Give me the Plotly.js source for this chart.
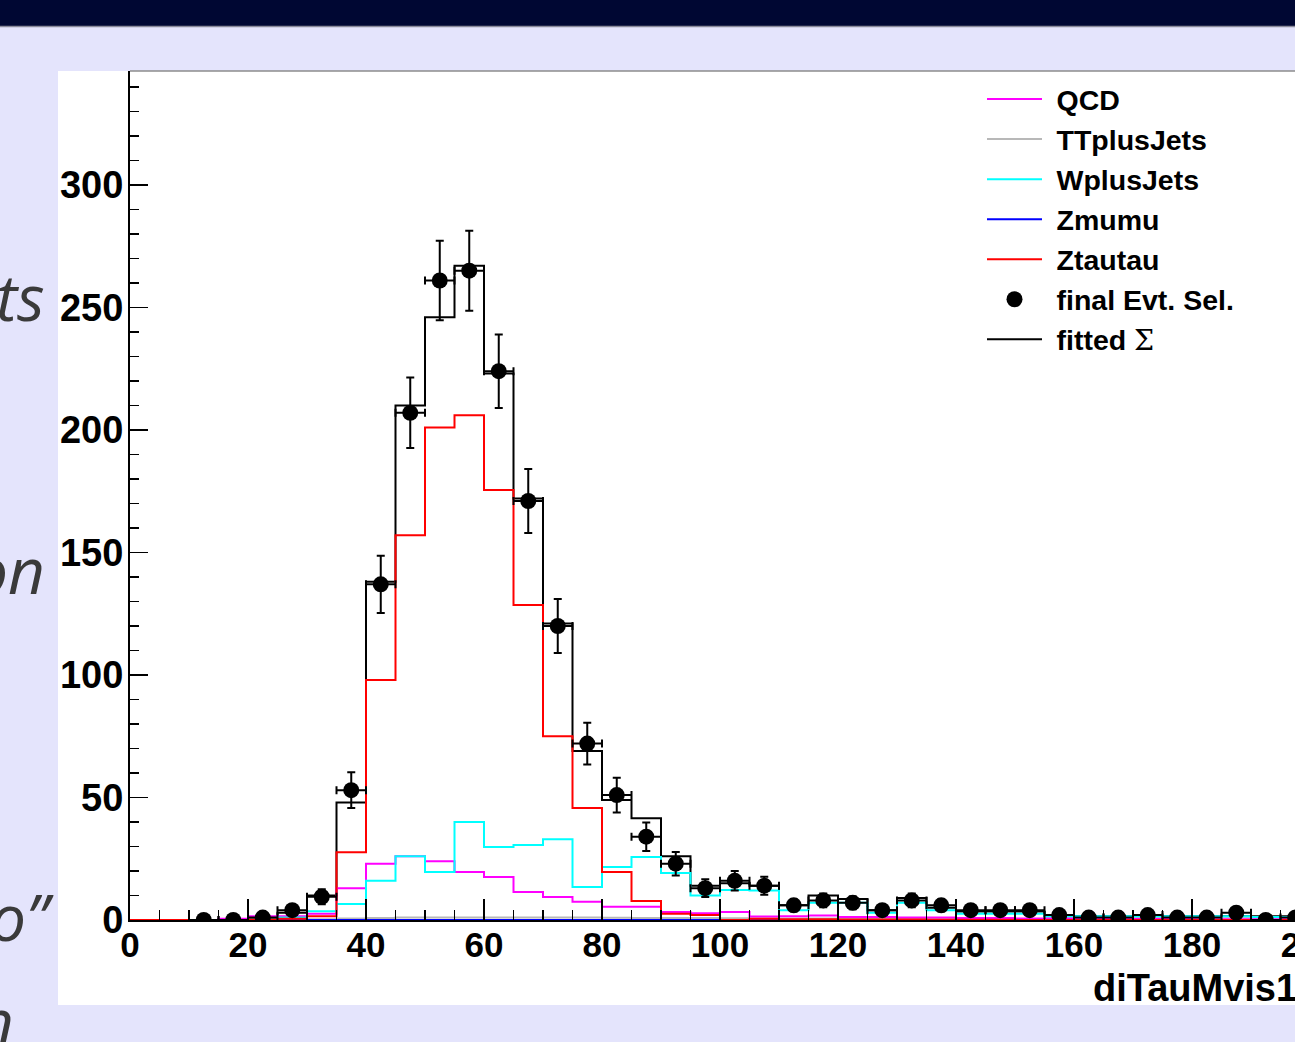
<!DOCTYPE html>
<html>
<head>
<meta charset="utf-8">
<script src="https://cdn.plot.ly/plotly-3.0.1.min.js"></script>
<style>
  html, body { margin: 0; padding: 0; overflow: hidden; background: #e4e4fc; }
  #chart { width: 1330px; height: 1042px; }
</style>
</head>
<body>
<div id="chart"></div>
<script>
// ---- data ----
const binCenters = [2.5, 7.5, 12.5, 17.5, 22.5, 27.5, 32.5, 37.5, 42.5, 47.5,
                    52.5, 57.5, 62.5, 67.5, 72.5, 77.5, 82.5, 87.5, 92.5, 97.5,
                    102.5, 107.5, 112.5, 117.5, 122.5, 127.5, 132.5, 137.5, 142.5, 147.5,
                    152.5, 157.5, 162.5, 167.5, 172.5, 177.5, 182.5, 187.5, 192.5, 197.5];
const binWidth = 5;

const qcd = [0, 0, 0, 0.5, 1.5, 1.5, 2.5, 13, 23, 26,
             24, 19.6, 17.6, 11.4, 9.4, 7.4, 5.4, 5.4, 3.3, 2.8,
             3.3, 1.4, 1.5, 1.8, 1.2, 1.2, 1, 1, 0.8, 0.8,
             0.6, 0.6, 0.5, 0.5, 0.4, 0.4, 0.3, 0.3, 0.3, 0.3];
const ttPlusJets = [0, 0, 0, 0, 0, 0.2, 0.3, 0.6, 0.8, 1,
                    1, 1, 1, 1, 1, 1, 0.9, 0.8, 0.8, 0.8,
                    0.7, 0.6, 0.6, 0.6, 0.5, 0.5, 0.4, 0.4, 0.3, 0.3,
                    0.3, 0.3, 0.2, 0.2, 0.2, 0.2, 0.2, 0.2, 0.2, 0.2];
const wPlusJets = [0, 0, 0, 0, 0.3, 1, 3.6, 6.5, 16, 26,
                   19.6, 40, 29.8, 30.6, 33, 13.5, 21.6, 25.7, 19.2, 10,
                   12.2, 12, 4, 7, 7, 3, 7, 4, 2.5, 2.5,
                   2.5, 1.5, 1.5, 1.5, 1.5, 1.5, 1.5, 1.5, 1.2, 1.2];
const zMuMu = [0, 0, 0, 0, 0, 0.05, 0.05, 0.05, 0.05, 0.05,
               0.05, 0.05, 0.05, 0.05, 0.05, 0.05, 0.05, 0.05, 0.05, 0.05,
               0, 0, 0, 0, 0, 0, 0, 0, 0, 0,
               0, 0, 0, 0, 0, 0, 0, 0, 0, 0];
const zTauTau = [0, 0, 0, 0, 0.2, 0.5, 1.5, 27.7, 98, 157,
                 201, 206, 175.5, 128.6, 75, 45.7, 19.6, 7.8, 2.5, 2,
                 0, 0.5, 0.3, 0.3, 0.2, 0.2, 0.2, 0.1, 0.1, 0.1,
                 0, 0, 0, 0, 0, 0, 0, 0, 0, 0];
const fittedSum = [0, 0, 0, 0.3, 1, 3, 10, 48, 138, 210,
                   246, 267, 223, 172, 121, 69, 49, 41.5, 26, 14,
                   15, 14, 6, 10, 8.6, 4, 9, 5, 3.5, 3.5,
                   3.5, 1.5, 1.5, 1.5, 1.5, 1.5, 1.5, 1.5, 1.5, 1.5];
const finalEvtSel = [null, null, 0, 0, 1, 4, 9.5, 53, 137, 207,
                     261, 265, 224, 171, 120, 72, 51, 34, 23, 13,
                     16, 14, 6, 8, 7, 4, 8, 6, 4, 4,
                     4, 2, 1, 1, 2, 1, 1, 3, 0, 1];
const finalEvtSelErr = [null, null, 0, 0, 1, 2, 3.1, 7.3, 11.7, 14.4,
                        16.2, 16.3, 15, 13.1, 11, 8.5, 7.1, 5.8, 4.8, 3.6,
                        4, 3.7, 2.4, 2.8, 2.6, 2, 2.8, 2.4, 2, 2,
                        2, 1.4, 1, 1, 1.4, 1, 1, 1.7, 0, 1];

const xTickVals = [0, 20, 40, 60, 80, 100, 120, 140, 160, 180, 200];
const yTickVals = [0, 50, 100, 150, 200, 250, 300];

// ---- helpers ----
const SP = '\u2004';
function stepTrace(name, vals, color, rank) {
  const xs = binCenters.map(c => c - binWidth / 2);
  xs.push(binCenters[binCenters.length - 1] + binWidth / 2);
  const ys = vals.slice();
  ys.push(vals[vals.length - 1]);
  return {
    type: 'scatter', mode: 'lines', name: SP + name, x: xs, y: ys,
    line: {shape: 'hv', color: color, width: 2},
    legendrank: rank, hoverinfo: 'skip'
  };
}

// pixel -> paper helpers (plot area: x 130..1310, y 71..920)
const PL = 130, PW = 1180, PT = 71, PH = 849;
const px = p => (p - PL) / PW;
const py = p => (PT + PH - p) / PH;

const traces = [
  stepTrace('fitted <span style="font-family:\'DejaVu Serif\';font-weight:normal">Σ</span>', fittedSum, '#000000', 7),
  stepTrace('TTplusJets', ttPlusJets, '#b8b8b8', 2),
  stepTrace('Zmumu', zMuMu, '#0000ff', 4),
  stepTrace('QCD', qcd, '#ff00ff', 1),
  stepTrace('WplusJets', wPlusJets, '#00ffff', 3),
  stepTrace('Ztautau', zTauTau, '#ff0000', 5),
  {
    type: 'scatter', mode: 'markers', name: SP + 'final Evt. Sel.',
    x: binCenters, y: finalEvtSel,
    marker: {color: '#000000', size: 16},
    error_y: {type: 'data', array: finalEvtSelErr, visible: true, color: '#000000', thickness: 2, width: 4},
    error_x: {type: 'constant', value: binWidth / 2, visible: true, color: '#000000', thickness: 2, width: 4},
    legendrank: 6, hoverinfo: 'skip'
  }
];

const tickFontX = {family: 'Liberation Sans, Arial, sans-serif', size: 35, color: '#000', weight: 'bold'};
const tickFontY = {family: 'Liberation Sans, Arial, sans-serif', size: 38, color: '#000', weight: 'bold'};
const slideFont = {family: 'Open Sans, sans-serif', size: 64, color: '#3a3a3a', style: 'italic'};

const layout = {
  width: 1330, height: 1042,
  margin: {l: PL, r: 1330 - PL - PW, t: PT, b: 1042 - PT - PH, pad: 0},
  paper_bgcolor: '#e4e4fc',
  plot_bgcolor: '#ffffff',
  showlegend: true,
  legend: {
    x: px(982), y: py(74), xanchor: 'left', yanchor: 'top',
    bgcolor: 'rgba(0,0,0,0)', borderwidth: 0,
    font: {family: 'Liberation Sans, Arial, sans-serif', size: 28.5, color: '#000', weight: 'bold'},
    itemwidth: 55, traceorder: 'normal'
  },
  xaxis: {
    range: [0, 200], tickmode: 'array', tickvals: xTickVals,
    ticks: 'inside', ticklen: 21, tickwidth: 1.5, tickcolor: '#000',
    minor: {dtick: 5, ticks: 'inside', ticklen: 10, tickwidth: 1.5, tickcolor: '#000'},
    showline: true, linecolor: '#000', linewidth: 2,
    showgrid: false, zeroline: false,
    tickfont: tickFontX, ticklabelstandoff: -7, ticklabeloverflow: 'allow'
  },
  yaxis: {
    range: [0, 346.5], tickmode: 'array', tickvals: yTickVals,
    ticks: 'inside', ticklen: 18, tickwidth: 1.5, tickcolor: '#000',
    minor: {dtick: 10, ticks: 'inside', ticklen: 9, tickwidth: 1.5, tickcolor: '#000'},
    showline: true, linecolor: '#000', linewidth: 2,
    showgrid: false, zeroline: false,
    tickfont: tickFontY, ticklabelstandoff: -3, ticklabeloverflow: 'allow'
  },
  shapes: [
    {type: 'rect', xref: 'paper', yref: 'paper', layer: 'below',
     x0: px(-10), x1: px(1400), y0: py(26), y1: py(-10),
     fillcolor: '#000733', line: {width: 0}},
    {type: 'line', xref: 'paper', yref: 'paper', layer: 'below',
     x0: px(-10), x1: px(1400), y0: py(26.5), y1: py(26.5),
     line: {color: '#8a8a9a', width: 1.5}},
    {type: 'rect', xref: 'paper', yref: 'paper', layer: 'below',
     x0: px(58), x1: px(1400), y0: py(1005), y1: py(71),
     fillcolor: '#ffffff', line: {width: 0}},
    {type: 'line', xref: 'paper', yref: 'paper', layer: 'above',
     x0: 0, x1: 1, y0: 1, y1: 1,
     line: {color: '#8c8c8c', width: 1.5}}
  ],
  annotations: [
    {xref: 'paper', yref: 'paper', x: px(1299), y: py(988), xanchor: 'right', yanchor: 'middle',
     text: 'diTauMvis1', showarrow: false,
     font: {family: 'Liberation Sans, Arial, sans-serif', size: 38, color: '#000', weight: 'bold'}},
    {xref: 'paper', yref: 'paper', x: px(47), y: py(296), xanchor: 'right', yanchor: 'middle',
     text: 'ts', showarrow: false, font: slideFont},
    {xref: 'paper', yref: 'paper', x: px(47), y: py(569), xanchor: 'right', yanchor: 'middle',
     text: 'on', showarrow: false, font: slideFont},
    {xref: 'paper', yref: 'paper', x: px(56), y: py(916), xanchor: 'right', yanchor: 'middle',
     text: 'o\u201d', showarrow: false, font: slideFont},
    {xref: 'paper', yref: 'paper', x: px(16), y: py(1020), xanchor: 'right', yanchor: 'middle',
     text: 'n', showarrow: false, font: slideFont}
  ]
};

Plotly.newPlot('chart', traces, layout, {displayModeBar: false, staticPlot: true});
</script>
</body>
</html>
